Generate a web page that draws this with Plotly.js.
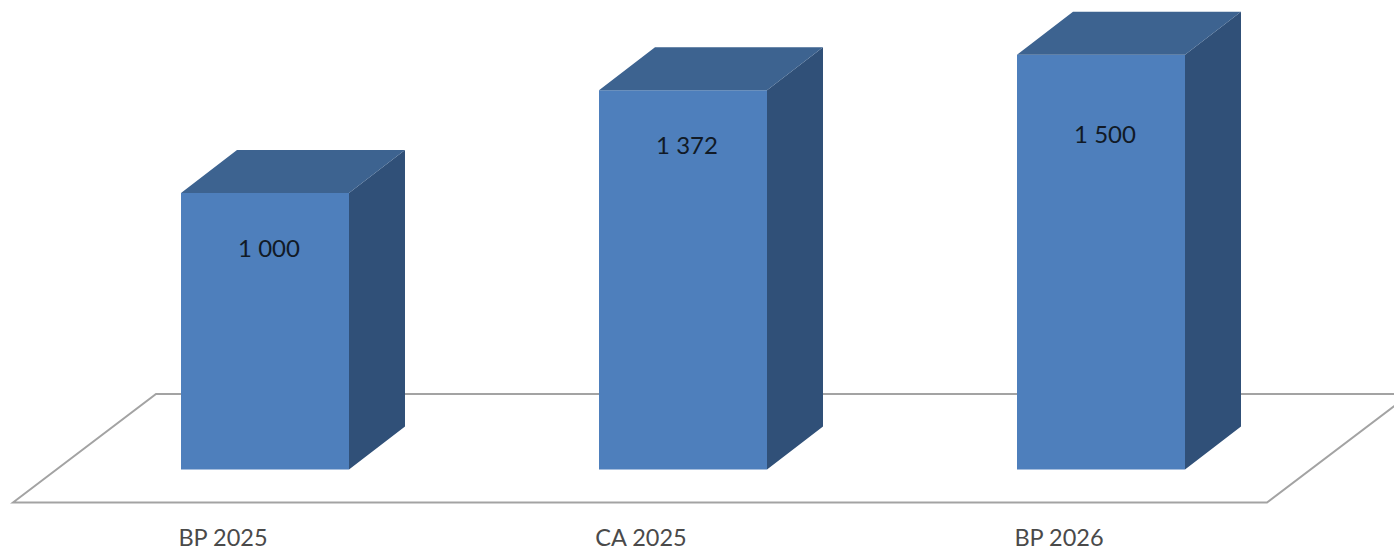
<!DOCTYPE html>
<html>
<head>
<meta charset="utf-8">
<script src="https://cdn.plot.ly/plotly-3.0.1.min.js"></script>
<style>html,body{margin:0;padding:0;background:#fff;overflow:hidden}#c{width:1394px;height:549px}</style>
</head>
<body>
<div id="c"></div>
<script>
const categories = ["BP 2025", "CA 2025", "BP 2026"];
const values = [1000, 1372, 1500];
const valueLabels = ["1 000", "1 372", "1 500"];
const labelHeights = [791, 1164, 1204];

const W = 1394, H = 549, plotBottom = 520;
const pxPerCat = 418, pxPerVal = 0.2765, x0px = 265, y0px = 469.5;
const barWidth = 168 / pxPerCat;
const depthX = 56 / pxPerCat, depthY = 43 / pxPerVal;
const labelShift = 4 / pxPerCat, tickShift = -42 / pxPerCat;
const floor = {
  front: -33 / pxPerVal, back: 75.5 / pxPerVal,
  left: (13 - x0px) / pxPerCat, right: (1267 - x0px) / pxPerCat,
  backLeft: (156 - x0px) / pxPerCat, backRight: (1410 - x0px) / pxPerCat
};
const idx = categories.map((_, i) => i);

const topX = [], topY = [], sideX = [], sideY = [];
idx.forEach(i => {
  const l = i - barWidth / 2, r = i + barWidth / 2, v = values[i];
  topX.push(l, r, r + depthX, l + depthX, l, null);
  topY.push(v, v, v + depthY, v + depthY, v, null);
  sideX.push(r, r + depthX, r + depthX, r, r, null);
  sideY.push(0, depthY, v + depthY, v, 0, null);
});

const traces = [
  {type: "bar", x: idx, y: values, width: barWidth, marker: {color: "#4e7fbc", line: {width: 0}}, hoverinfo: "skip"},
  {type: "scatter", mode: "lines", x: sideX, y: sideY, fill: "toself", fillcolor: "#305078", line: {width: 0, color: "#305078"}, hoverinfo: "skip"},
  {type: "scatter", mode: "lines", x: topX, y: topY, fill: "toself", fillcolor: "#3d6390", line: {width: 0, color: "#3d6390"}, hoverinfo: "skip"},
  {type: "scatter", mode: "text", x: idx.map(i => i + labelShift), y: labelHeights, text: valueLabels,
   textposition: "middle center", textfont: {family: "Lato, Carlito, sans-serif", size: 24, color: "#111a26"}, hoverinfo: "skip"}
];

const layout = {
  width: W, height: H, showlegend: false, paper_bgcolor: "#fff", plot_bgcolor: "rgba(0,0,0,0)",
  margin: {l: 0, r: 0, t: 0, b: H - plotBottom, pad: 0},
  xaxis: {range: [-x0px / pxPerCat, (W - x0px) / pxPerCat], tickmode: "array",
    tickvals: idx.map(i => i + tickShift), ticktext: categories, ticks: "", showgrid: false, zeroline: false, showline: false,
    ticklabelstandoff: 1,
    tickfont: {family: "Lato, Carlito, sans-serif", size: 23.5, color: "#4a4a4a"}, fixedrange: true},
  yaxis: {range: [(y0px - plotBottom) / pxPerVal, y0px / pxPerVal], visible: false, fixedrange: true},
  shapes: [{
    type: "path", layer: "below", xref: "x", yref: "y",
    path: `M${floor.left},${floor.front} L${floor.backLeft},${floor.back} L${floor.backRight},${floor.back} L${floor.right},${floor.front} Z`,
    line: {color: "#a3a3a3", width: 2}, fillcolor: "rgba(0,0,0,0)"
  }]
};
Plotly.newPlot("c", traces, layout, {displayModeBar: false, staticPlot: true});
</script>
</body>
</html>
